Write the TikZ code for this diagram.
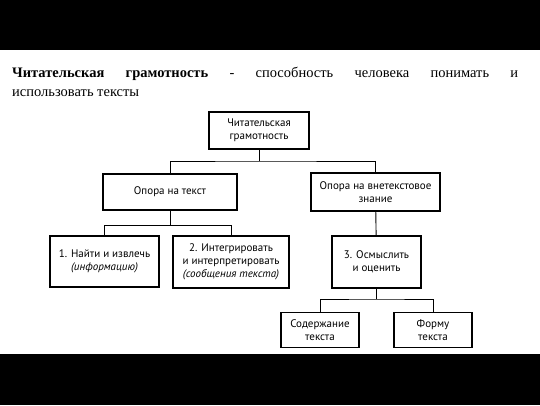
\documentclass[tikz,border=0pt]{standalone}
\usepackage{fontspec}
\setmainfont{Liberation Serif}
\newfontfamily\diagfont{PT Sans}
\usepackage{tikz}
\usetikzlibrary{positioning}

\begin{document}
\begin{tikzpicture}[x=1pt,y=-1pt]
	\useasboundingbox (0,0) rectangle (540,405);
	\fill[black] (0,0) rectangle (540,50);
	\fill[black] (0,354) rectangle (540,405);
	\node[anchor=north west,inner sep=0pt,text width=506pt,align=justify,
	      font=\fontsize{14.5}{19}\selectfont] (T) at (12,67)
	      {\hyphenpenalty=10000 \textbf{Читательская грамотность} - способность человека понимать и\linebreak использовать тексты};
	\begin{scope}[every node/.style={rectangle,draw,line width=1.4pt,align=center,inner sep=2pt,
	              font=\diagfont\fontsize{11}{13}\selectfont}]
		\node[minimum width=100pt,minimum height=37pt] (A) at (259,130.5) {Читательская\\грамотность};
		\node[minimum width=134pt,minimum height=36pt] (B) at (170,192) {Опора на текст};
		\node[minimum width=129pt,minimum height=38pt] (C) at (375.5,192) {Опора на внетекстовое\\знание};
		\node[minimum width=109pt,minimum height=51pt] (D) at (104.5,261.5) {1. Найти и извлечь\\\textit{(информацию)}};
		\node[minimum width=116pt,minimum height=52pt] (E) at (231,262) {2. Интегрировать\\и интерпретировать\\\textit{(сообщения текста)}};
		\node[minimum width=89pt,minimum height=52pt] (F) at (376.5,262) {3. Осмыслить\\и оценить};
		\node[minimum width=78pt,minimum height=35pt] (G) at (320,330) {Содержание\\текста};
		\node[minimum width=78pt,minimum height=35pt] (H) at (433,330) {Форму\\текста};
	\end{scope}
	\coordinate (AB) at (259,161);
	\coordinate (BD) at (170,225.5);
	\coordinate (FG) at (376.5,299);
	\begin{scope}[line width=0.9pt]
		\draw (A) -- (AB);
		\draw (B.north) |- (AB) -| (C.north);
		\draw (B) -- (BD);
		\draw (D.north) |- (BD) -| (E.north);
		\draw (C) -- (F);
		\draw (F) -- (FG);
		\draw (G.north) |- (FG) -| (H.north);
	\end{scope}
\end{tikzpicture}
\end{document}
